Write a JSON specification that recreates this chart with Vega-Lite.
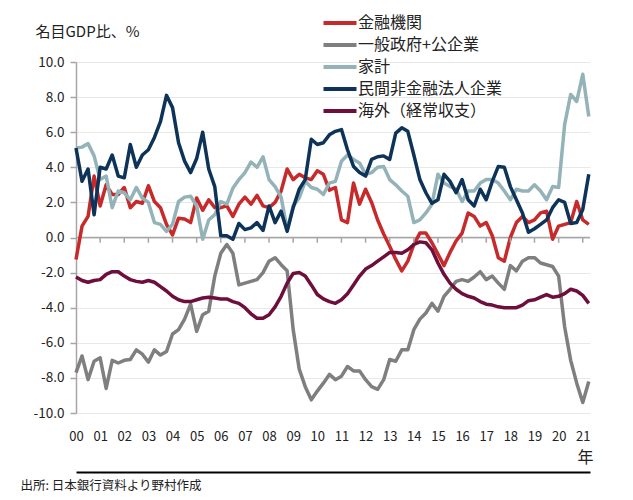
{
  "$schema": "https://vega.github.io/schema/vega-lite/v6.json",
  "width": 514,
  "height": 351,
  "autosize": {"type": "none"},
  "padding": {"left": 76, "top": 62, "right": 43, "bottom": 87},
  "background": "white",
  "config": {"view": {"stroke": null}, "font": "Noto Sans CJK JP", "axis": {"labelOverlap": false}, "axisY": {"labelOverlap": false}},
  "layer": [
    {
      "data": {"values": [{"zero": 0}]},
      "mark": {"type": "rule", "color": "#a6a6a6", "strokeWidth": 1.5},
      "encoding": {"y": {"field": "zero", "type": "quantitative",
          "scale": {"domain": [-10, 10], "nice": false},
          "axis": {"values": [-10, -8, -6, -4, -2, 0, 2, 4, 6, 8, 10], "labelExpr": "replace(format(datum.value, '.1f'), '−', '-')",
            "title": "名目GDP比、%", "titleAngle": 0, "titleX": -41, "titleY": -31, "titleAlign": "left", "titleAnchor": "start",
            "titleBaseline": "middle", "titleFontSize": 15, "titleFontWeight": "normal", "titleColor": "#222222",
            "labelOverlap": false, "labelFlush": false,
            "domainColor": "#a6a6a6", "domainWidth": 1.5, "tickColor": "#a6a6a6", "tickSize": 6, "tickWidth": 1.5,
            "labelPadding": 6, "labelFontSize": 13.5, "labelColor": "#222222",
            "gridColor": "#e8e8e8", "gridWidth": 1}}}
    },
    {
      "data": {"values": [
        {"t": 2000.00, "金融機関": -1.25, "一般政府+公企業": -7.7, "家計": 5.1, "民間非金融法人企業": 5.1, "海外（経常収支）": -2.25},
        {"t": 2000.25, "金融機関": 0.65, "一般政府+公企業": -6.75, "家計": 5.15, "民間非金融法人企業": 3.2, "海外（経常収支）": -2.45},
        {"t": 2000.50, "金融機関": 1.2, "一般政府+公企業": -8.1, "家計": 5.35, "民間非金融法人企業": 3.9, "海外（経常収支）": -2.55},
        {"t": 2000.75, "金融機関": 3.5, "一般政府+公企業": -7.05, "家計": 4.65, "民間非金融法人企業": 1.3, "海外（経常収支）": -2.45},
        {"t": 2001.00, "金融機関": 1.8, "一般政府+公企業": -6.85, "家計": 3.3, "民間非金融法人企業": 4.0, "海外（経常収支）": -2.4},
        {"t": 2001.25, "金融機関": 3.0, "一般政府+公企業": -8.6, "家計": 3.5, "民間非金融法人企業": 3.9, "海外（経常収支）": -2.1},
        {"t": 2001.50, "金融機関": 2.45, "一般政府+公企業": -7.0, "家計": 1.7, "民間非金融法人企業": 4.7, "海外（経常収支）": -1.95},
        {"t": 2001.75, "金融機関": 2.45, "一般政府+公企業": -7.15, "家計": 2.65, "民間非金融法人企業": 3.5, "海外（経常収支）": -1.95},
        {"t": 2002.00, "金融機関": 2.85, "一般政府+公企業": -7.0, "家計": 2.55, "民間非金融法人企業": 3.4, "海外（経常収支）": -2.2},
        {"t": 2002.25, "金融機関": 1.7, "一般政府+公企業": -6.95, "家計": 2.15, "民間非金融法人企業": 5.3, "海外（経常収支）": -2.4},
        {"t": 2002.50, "金融機関": 2.05, "一般政府+公企業": -6.4, "家計": 2.85, "民間非金融法人企業": 4.0, "海外（経常収支）": -2.5},
        {"t": 2002.75, "金融機関": 1.95, "一般政府+公企業": -6.65, "家計": 2.25, "民間非金融法人企業": 4.7, "海外（経常収支）": -2.55},
        {"t": 2003.00, "金融機関": 2.95, "一般政府+公企業": -7.1, "家計": 2.0, "民間非金融法人企業": 5.0, "海外（経常収支）": -2.45},
        {"t": 2003.25, "金融機関": 2.05, "一般政府+公企業": -6.4, "家計": 0.85, "民間非金融法人企業": 5.7, "海外（経常収支）": -2.55},
        {"t": 2003.50, "金融機関": 1.7, "一般政府+公企業": -6.7, "家計": 0.75, "民間非金融法人企業": 6.6, "海外（経常収支）": -2.8},
        {"t": 2003.75, "金融機関": 0.75, "一般政府+公企業": -6.5, "家計": 0.35, "民間非金融法人企業": 8.1, "海外（経常収支）": -3.05},
        {"t": 2004.00, "金融機関": 0.15, "一般政府+公企業": -5.5, "家計": 0.75, "民間非金融法人企業": 7.4, "海外（経常収支）": -3.35},
        {"t": 2004.25, "金融機関": 1.1, "一般政府+公企業": -5.25, "家計": 2.05, "民間非金融法人企業": 5.4, "海外（経常収支）": -3.55},
        {"t": 2004.50, "金融機関": 1.05, "一般政府+公企業": -4.65, "家計": 2.3, "民間非金融法人企業": 4.35, "海外（経常収支）": -3.65},
        {"t": 2004.75, "金融機関": 0.85, "一般政府+公企業": -3.8, "家計": 2.35, "民間非金融法人企業": 3.7, "海外（経常収支）": -3.65},
        {"t": 2005.00, "金融機関": 2.25, "一般政府+公企業": -5.35, "家計": 1.8, "民間非金融法人企業": 4.5, "海外（経常収支）": -3.55},
        {"t": 2005.25, "金融機関": 1.55, "一般政府+公企業": -4.4, "家計": -0.1, "民間非金融法人企業": 6.0, "海外（経常収支）": -3.45},
        {"t": 2005.50, "金融機関": 2.15, "一般政府+公企業": -4.2, "家計": 1.0, "民間非金融法人企業": 3.9, "海外（経常収支）": -3.4},
        {"t": 2005.75, "金融機関": 1.7, "一般政府+公企業": -2.2, "家計": 1.3, "民間非金融法人企業": 2.9, "海外（経常収支）": -3.45},
        {"t": 2006.00, "金融機関": 1.7, "一般政府+公企業": -0.9, "家計": 2.05, "民間非金融法人企業": 0.1, "海外（経常収支）": -3.5},
        {"t": 2006.25, "金融機関": 1.8, "一般政府+公企業": -0.4, "家計": 1.9, "民間非金融法人企業": 0.1, "海外（経常収支）": -3.5},
        {"t": 2006.50, "金融機関": 1.2, "一般政府+公企業": -0.9, "家計": 2.8, "民間非金融法人企業": -0.1, "海外（経常収支）": -3.65},
        {"t": 2006.75, "金融機関": 1.9, "一般政府+公企業": -2.7, "家計": 3.3, "民間非金融法人企業": 0.8, "海外（経常収支）": -3.75},
        {"t": 2007.00, "金融機関": 2.3, "一般政府+公企業": -2.6, "家計": 3.7, "民間非金融法人企業": 0.45, "海外（経常収支）": -4.0},
        {"t": 2007.25, "金融機関": 1.9, "一般政府+公企業": -2.5, "家計": 4.3, "民間非金融法人企業": 0.55, "海外（経常収支）": -4.35},
        {"t": 2007.50, "金融機関": 2.4, "一般政府+公企業": -2.4, "家計": 4.0, "民間非金融法人企業": 0.85, "海外（経常収支）": -4.6},
        {"t": 2007.75, "金融機関": 1.8, "一般政府+公企業": -2.0, "家計": 4.6, "民間非金融法人企業": 0.4, "海外（経常収支）": -4.6},
        {"t": 2008.00, "金融機関": 1.7, "一般政府+公企業": -1.35, "家計": 3.3, "民間非金融法人企業": 1.8, "海外（経常収支）": -4.4},
        {"t": 2008.25, "金融機関": 2.0, "一般政府+公企業": -1.15, "家計": 2.9, "民間非金融法人企業": 0.85, "海外（経常収支）": -3.95},
        {"t": 2008.50, "金融機関": 2.65, "一般政府+公企業": -1.55, "家計": 2.3, "民間非金融法人企業": 1.5, "海外（経常収支）": -3.35},
        {"t": 2008.75, "金融機関": 3.9, "一般政府+公企業": -1.9, "家計": 0.45, "民間非金融法人企業": 0.35, "海外（経常収支）": -2.6},
        {"t": 2009.00, "金融機関": 3.3, "一般政府+公企業": -5.25, "家計": 1.8, "民間非金融法人企業": 1.7, "海外（経常収支）": -2.05},
        {"t": 2009.25, "金融機関": 3.6, "一般政府+公企業": -7.5, "家計": 2.25, "民間非金融法人企業": 2.75, "海外（経常収支）": -2.0},
        {"t": 2009.50, "金融機関": 3.4, "一般政府+公企業": -8.5, "家計": 3.2, "民間非金融法人企業": 3.3, "海外（経常収支）": -2.2},
        {"t": 2009.75, "金融機関": 3.3, "一般政府+公企業": -9.25, "家計": 2.85, "民間非金融法人企業": 5.6, "海外（経常収支）": -2.7},
        {"t": 2010.00, "金融機関": 3.8, "一般政府+公企業": -8.75, "家計": 2.75, "民間非金融法人企業": 5.3, "海外（経常収支）": -3.25},
        {"t": 2010.25, "金融機関": 3.6, "一般政府+公企業": -8.3, "家計": 2.45, "民間非金融法人企業": 5.4, "海外（経常収支）": -3.5},
        {"t": 2010.50, "金融機関": 2.7, "一般政府+公企業": -7.8, "家計": 3.1, "民間非金融法人企業": 5.85, "海外（経常収支）": -3.65},
        {"t": 2010.75, "金融機関": 2.85, "一般政府+公企業": -8.1, "家計": 3.2, "民間非金融法人企業": 6.05, "海外（経常収支）": -3.75},
        {"t": 2011.00, "金融機関": 1.0, "一般政府+公企業": -7.9, "家計": 4.35, "民間非金融法人企業": 6.15, "海外（経常収支）": -3.55},
        {"t": 2011.25, "金融機関": 0.85, "一般政府+公企業": -7.35, "家計": 4.7, "民間非金融法人企業": 5.0, "海外（経常収支）": -3.2},
        {"t": 2011.50, "金融機関": 3.1, "一般政府+公企業": -7.6, "家計": 4.45, "民間非金融法人企業": 4.05, "海外（経常収支）": -2.7},
        {"t": 2011.75, "金融機関": 1.9, "一般政府+公企業": -7.6, "家計": 4.25, "民間非金融法人企業": 3.7, "海外（経常収支）": -2.2},
        {"t": 2012.00, "金融機関": 2.75, "一般政府+公企業": -8.1, "家計": 3.6, "民間非金融法人企業": 3.5, "海外（経常収支）": -1.8},
        {"t": 2012.25, "金融機関": 2.0, "一般政府+公企業": -8.5, "家計": 3.7, "民間非金融法人企業": 4.45, "海外（経常収支）": -1.6},
        {"t": 2012.50, "金融機関": 1.0, "一般政府+公企業": -8.65, "家計": 4.0, "民間非金融法人企業": 4.6, "海外（経常収支）": -1.35},
        {"t": 2012.75, "金融機関": 0.2, "一般政府+公企業": -8.1, "家計": 4.05, "民間非金融法人企業": 4.65, "海外（経常収支）": -1.1},
        {"t": 2013.00, "金融機関": -0.5, "一般政府+公企業": -6.95, "家計": 3.3, "民間非金融法人企業": 4.45, "海外（経常収支）": -0.85},
        {"t": 2013.25, "金融機関": -1.25, "一般政府+公企業": -7.05, "家計": 3.0, "民間非金融法人企業": 5.95, "海外（経常収支）": -0.85},
        {"t": 2013.50, "金融機関": -1.9, "一般政府+公企業": -6.4, "家計": 2.65, "民間非金融法人企業": 6.25, "海外（経常収支）": -0.9},
        {"t": 2013.75, "金融機関": -1.35, "一般政府+公企業": -6.4, "家計": 2.35, "民間非金融法人企業": 6.05, "海外（経常収支）": -0.7},
        {"t": 2014.00, "金融機関": -0.4, "一般政府+公企業": -5.25, "家計": 0.85, "民間非金融法人企業": 4.7, "海外（経常収支）": -0.4},
        {"t": 2014.25, "金融機関": 0.25, "一般政府+公企業": -4.65, "家計": 1.0, "民間非金融法人企業": 3.3, "海外（経常収支）": -0.25},
        {"t": 2014.50, "金融機関": 0.25, "一般政府+公企業": -4.3, "家計": 1.4, "民間非金融法人企業": 2.55, "海外（経常収支）": -0.3},
        {"t": 2014.75, "金融機関": -0.3, "一般政府+公企業": -3.75, "家計": 1.9, "民間非金融法人企業": 1.95, "海外（経常収支）": -0.7},
        {"t": 2015.00, "金融機関": -0.95, "一般政府+公企業": -4.2, "家計": 3.6, "民間非金融法人企業": 2.15, "海外（経常収支）": -1.45},
        {"t": 2015.25, "金融機関": -1.6, "一般政府+公企業": -3.35, "家計": 3.1, "民間非金融法人企業": 3.6, "海外（経常収支）": -2.1},
        {"t": 2015.50, "金融機関": -0.85, "一般政府+公企業": -2.95, "家計": 2.9, "民間非金融法人企業": 3.2, "海外（経常収支）": -2.6},
        {"t": 2015.75, "金融機関": -0.2, "一般政府+公企業": -2.5, "家計": 2.75, "民間非金融法人企業": 2.55, "海外（経常収支）": -2.95},
        {"t": 2016.00, "金融機関": 0.25, "一般政府+公企業": -2.4, "家計": 2.05, "民間非金融法人企業": 3.3, "海外（経常収支）": -3.2},
        {"t": 2016.25, "金融機関": 1.4, "一般政府+公企業": -2.5, "家計": 2.65, "民間非金融法人企業": 2.15, "海外（経常収支）": -3.35},
        {"t": 2016.50, "金融機関": 1.2, "一般政府+公企業": -2.25, "家計": 2.65, "民間非金融法人企業": 1.8, "海外（経常収支）": -3.45},
        {"t": 2016.75, "金融機関": 0.65, "一般政府+公企業": -1.95, "家計": 3.1, "民間非金融法人企業": 2.75, "海外（経常収支）": -3.65},
        {"t": 2017.00, "金融機関": 0.85, "一般政府+公企業": -2.4, "家計": 3.3, "民間非金融法人企業": 2.15, "海外（経常収支）": -3.8},
        {"t": 2017.25, "金融機関": 0.1, "一般政府+公企業": -2.2, "家計": 3.3, "民間非金融法人企業": 3.2, "海外（経常収支）": -3.85},
        {"t": 2017.50, "金融機関": -1.15, "一般政府+公企業": -2.6, "家計": 3.1, "民間非金融法人企業": 4.05, "海外（経常収支）": -3.95},
        {"t": 2017.75, "金融機関": -1.35, "一般政府+公企業": -2.95, "家計": 2.65, "民間非金融法人企業": 4.0, "海外（経常収支）": -4.0},
        {"t": 2018.00, "金融機関": 0.0, "一般政府+公企業": -1.6, "家計": 2.15, "民間非金融法人企業": 2.9, "海外（経常収支）": -4.0},
        {"t": 2018.25, "金融機関": 0.85, "一般政府+公企業": -1.9, "家計": 2.75, "民間非金融法人企業": 2.15, "海外（経常収支）": -4.0},
        {"t": 2018.50, "金融機関": 1.2, "一般政府+公企業": -1.35, "家計": 2.65, "民間非金融法人企業": 1.4, "海外（経常収支）": -3.85},
        {"t": 2018.75, "金融機関": 0.85, "一般政府+公企業": -1.15, "家計": 2.65, "民間非金融法人企業": 0.3, "海外（経常収支）": -3.6},
        {"t": 2019.00, "金融機関": 1.0, "一般政府+公企業": -1.15, "家計": 3.0, "民間非金融法人企業": 0.5, "海外（経常収支）": -3.55},
        {"t": 2019.25, "金融機関": 1.4, "一般政府+公企業": -1.45, "家計": 2.65, "民間非金融法人企業": 0.75, "海外（経常収支）": -3.4},
        {"t": 2019.50, "金融機関": 1.5, "一般政府+公企業": -1.55, "家計": 2.15, "民間非金融法人企業": 1.0, "海外（経常収支）": -3.25},
        {"t": 2019.75, "金融機関": -0.1, "一般政府+公企業": -1.65, "家計": 2.9, "民間非金融法人企業": 1.7, "海外（経常収支）": -3.4},
        {"t": 2020.00, "金融機関": 0.65, "一般政府+公企業": -2.2, "家計": 2.85, "民間非金融法人企業": 2.15, "海外（経常収支）": -3.35},
        {"t": 2020.25, "金融機関": 0.75, "一般政府+公企業": -5.1, "家計": 6.45, "民間非金融法人企業": 2.0, "海外（経常収支）": -3.2},
        {"t": 2020.50, "金融機関": 0.85, "一般政府+公企業": -7.0, "家計": 8.15, "民間非金融法人企業": 0.8, "海外（経常収支）": -2.95},
        {"t": 2020.75, "金融機関": 2.05, "一般政府+公企業": -8.3, "家計": 7.75, "民間非金融法人企業": 0.85, "海外（経常収支）": -3.05},
        {"t": 2021.00, "金融機関": 1.0, "一般政府+公企業": -9.4, "家計": 9.3, "民間非金融法人企業": 1.6, "海外（経常収支）": -3.3},
        {"t": 2021.25, "金融機関": 0.75, "一般政府+公企業": -8.2, "家計": 6.9, "民間非金融法人企業": 3.6, "海外（経常収支）": -3.75}
      ]},
      "transform": [{"fold": ["金融機関", "一般政府+公企業", "家計", "民間非金融法人企業", "海外（経常収支）"], "as": ["series", "value"]}],
      "mark": {"type": "line", "strokeWidth": 3.5, "strokeJoin": "round"},
      "encoding": {
        "x": {"field": "t", "type": "quantitative",
          "scale": {"domain": [2000, 2021.3], "nice": false, "zero": false},
          "axis": {"orient": "bottom", "values": [2000, 2001, 2002, 2003, 2004, 2005, 2006, 2007, 2008, 2009, 2010, 2011, 2012, 2013, 2014, 2015, 2016, 2017, 2018, 2019, 2020, 2021],
            "labelExpr": "slice(toString(datum.value), 2)", "domain": false, "ticks": false, "grid": false,
            "labelPadding": 17, "labelFontSize": 13, "labelColor": "#222222", "labelFlush": false, "labelOverlap": false,
            "title": "年", "titleX": 509, "titleY": 44, "titleBaseline": "middle", "titleAlign": "center", "titleAnchor": "end",
            "titleFontSize": 16, "titleFontWeight": "normal", "titleColor": "#222222"}},
        "y": {"field": "value", "type": "quantitative",
          "scale": {"domain": [-10, 10], "nice": false},
          "axis": {"values": [-10, -8, -6, -4, -2, 0, 2, 4, 6, 8, 10], "labelExpr": "replace(format(datum.value, '.1f'), '−', '-')",
            "title": "名目GDP比、%", "titleAngle": 0, "titleX": -41, "titleY": -31, "titleAlign": "left", "titleAnchor": "start",
            "titleBaseline": "middle", "titleFontSize": 15, "titleFontWeight": "normal", "titleColor": "#222222",
            "labelOverlap": false, "labelFlush": false,
            "domainColor": "#a6a6a6", "domainWidth": 1.5, "tickColor": "#a6a6a6", "tickSize": 6, "tickWidth": 1.5,
            "labelPadding": 6, "labelFontSize": 13.5, "labelColor": "#222222",
            "gridColor": "#e8e8e8", "gridWidth": 1}},
        "color": {"field": "series", "type": "nominal",
          "scale": {"domain": ["金融機関", "一般政府+公企業", "家計", "民間非金融法人企業", "海外（経常収支）"],
                    "range": ["#c62a2a", "#7f7f7f", "#93b3b8", "#0d3358", "#6d0e3c"]},
          "legend": {"orient": "none", "legendX": 256, "legendY": -47, "title": null, "padding": 0, "offset": 0,
            "symbolType": "M-3,0H3", "symbolSize": 121, "symbolStrokeWidth": 4, "labelFontSize": 16, "labelColor": "#222222",
            "rowPadding": 6, "labelOffset": 10, "direction": "vertical"}}
      }
    },
    {
      "data": {"values": [
        {"year": 2001}, {"year": 2002}, {"year": 2003}, {"year": 2004}, {"year": 2005}, {"year": 2006}, {"year": 2007},
        {"year": 2008}, {"year": 2009}, {"year": 2010}, {"year": 2011}, {"year": 2012}, {"year": 2013}, {"year": 2014},
        {"year": 2015}, {"year": 2016}, {"year": 2017}, {"year": 2018}, {"year": 2019}, {"year": 2020}, {"year": 2021}
      ]},
      "mark": {"type": "rule", "color": "#a6a6a6", "strokeWidth": 1.5},
      "encoding": {
        "x": {"field": "year", "type": "quantitative",
          "scale": {"domain": [2000, 2021.3], "nice": false, "zero": false},
          "axis": {"orient": "bottom", "offset": 59, "domain": true, "domainColor": "#000000", "domainWidth": 2,
            "ticks": false, "labels": false, "grid": false,
            "title": "出所: 日本銀行資料より野村作成", "titleX": -56, "titleY": 7, "titleAlign": "left", "titleAnchor": "start",
            "titleBaseline": "top", "titleFontSize": 12.5, "titleFontWeight": "normal", "titleColor": "#222222"}},
        "y": {"datum": 0,
          "scale": {"domain": [-10, 10], "nice": false},
          "axis": {"values": [-10, -8, -6, -4, -2, 0, 2, 4, 6, 8, 10], "labelExpr": "replace(format(datum.value, '.1f'), '−', '-')",
            "title": "名目GDP比、%", "titleAngle": 0, "titleX": -41, "titleY": -31, "titleAlign": "left", "titleAnchor": "start",
            "titleBaseline": "middle", "titleFontSize": 15, "titleFontWeight": "normal", "titleColor": "#222222",
            "labelOverlap": false, "labelFlush": false,
            "domainColor": "#a6a6a6", "domainWidth": 1.5, "tickColor": "#a6a6a6", "tickSize": 6, "tickWidth": 1.5,
            "labelPadding": 6, "labelFontSize": 13.5, "labelColor": "#222222",
            "gridColor": "#e8e8e8", "gridWidth": 1}},
        "y2": {"datum": -0.3}
      }
    }
  ],
  "resolve": {"axis": {"x": "independent"}}
}
